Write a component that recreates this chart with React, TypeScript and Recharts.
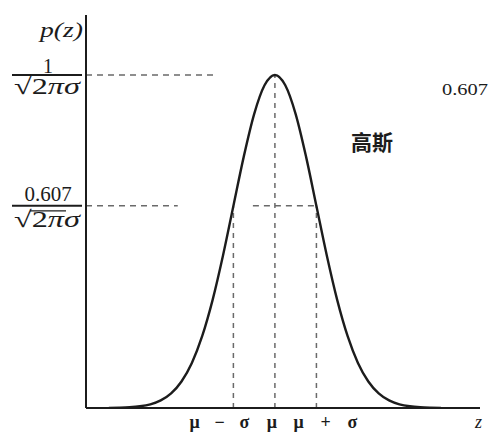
import { LineChart, Line, XAxis, YAxis, ReferenceLine } from "recharts";

// z in units of sigma, p(z) normalised so the peak is 1
const Z = [-4, -3.75, -3.5, -3.25, -3, -2.75, -2.5, -2.25, -2, -1.75, -1.5, -1.25, -1, -0.75, -0.5, -0.25, 0,
  0.25, 0.5, 0.75, 1, 1.25, 1.5, 1.75, 2, 2.25, 2.5, 2.75, 3, 3.25, 3.5, 3.75, 4];
const P = [0.0003, 0.0009, 0.0022, 0.0051, 0.0111, 0.0228, 0.0439, 0.0796, 0.1353, 0.2163, 0.3247, 0.4578,
  0.6065, 0.7548, 0.8825, 0.969, 1, 0.969, 0.8825, 0.7548, 0.6065, 0.4578, 0.3247, 0.2163, 0.1353, 0.0796,
  0.0439, 0.0228, 0.0111, 0.0051, 0.0022, 0.0009, 0.0003];

const X_TICKS = [-1, 0, 1];
const X_LABELS = ["μ − σ", "μ", "μ + σ"];
const Y_TICKS = [0.607, 1];
const Y_NUMERATORS = ["0.607", "1"];

const X_DOMAIN = [-4.55, 4.94];
const Y_DOMAIN = [0, 1.18];

const data = Z.map((z, i) => ({ z, p: P[i] }));

const SERIF = "'Liberation Serif', 'DejaVu Serif', serif";
const INK = "#1c1c1c";
const DASH = "#6a6a6a";

function FracTick({ x, y, payload }: any) {
  const i = Y_TICKS.indexOf(payload.value);
  const num = Y_NUMERATORS[i];
  const isOne = num === "1";
  return (
    <g>
      <text
        x={x - 38}
        y={y - (isOne ? 2 : 5)}
        textAnchor="middle"
        fontFamily={SERIF}
        fontSize={isOne ? 20 : 21}
        fill={INK}
      >
        {num}
      </text>
      <line x1={x - 74} x2={x - 4} y1={y} y2={y} stroke={INK} strokeWidth={2} />
      {!isOne && <line x1={x - 56} x2={x - 20} y1={y + 5} y2={y + 5} stroke={INK} strokeWidth={1.2} />}
      <text
        x={x - 72}
        y={y + (isOne ? 19 : 21)}
        fontFamily={SERIF}
        fontSize={23}
        fill={INK}
        textLength={66}
        lengthAdjust="spacingAndGlyphs"
      >
        √2<tspan fontStyle="italic">πσ</tspan>
      </text>
    </g>
  );
}

const X_DX = [-14, -3, 9];
const X_LEN = [60, 0, 64];

function MuTick({ x, y, payload }: any) {
  const i = X_TICKS.indexOf(payload.value);
  return (
    <text
      x={x + X_DX[i]}
      y={y + 20}
      textAnchor="middle"
      fontFamily={SERIF}
      fontWeight="bold"
      fontSize={18}
      fill={INK}
      {...(X_LEN[i] ? { textLength: X_LEN[i], lengthAdjust: "spacing" } : {})}
    >
      {X_LABELS[i]}
    </text>
  );
}

export default function App() {
  return (
    <div style={{ position: "absolute", left: 0, top: 0, width: 492, height: 432, background: "#fff" }}>
      <LineChart width={492} height={432} data={data} margin={{ top: 15, right: 12, left: 0, bottom: 0 }}>
        <XAxis
          dataKey="z"
          type="number"
          domain={X_DOMAIN}
          ticks={X_TICKS}
          height={24}
          tickLine={false}
          tickSize={0}
          tickMargin={0}
          tick={<MuTick />}
          axisLine={{ stroke: INK, strokeWidth: 2 }}
          allowDataOverflow
          label={{
            content: (p: any) => (
              <text
                x={p.viewBox.x + p.viewBox.width - 5}
                y={p.viewBox.y + 20}
                fontFamily={SERIF}
                fontStyle="italic"
                fontSize={18}
                fill={INK}
              >
                z
              </text>
            ),
          }}
        />
        <YAxis
          type="number"
          domain={Y_DOMAIN}
          ticks={Y_TICKS}
          width={86}
          tickLine={false}
          tickSize={0}
          tickMargin={0}
          tick={<FracTick />}
          axisLine={{ stroke: INK, strokeWidth: 2 }}
          allowDataOverflow
          label={{
            content: (p: any) => (
              <text
                x={p.viewBox.x + 40}
                y={37}
                fontFamily={SERIF}
                fontStyle="italic"
                fontSize={22}
                fill={INK}
                textLength={43}
                lengthAdjust="spacingAndGlyphs"
              >
                p(z)
              </text>
            ),
          }}
        />

        {/* guide lines */}
        <ReferenceLine segment={[{ x: -4.55, y: 1 }, { x: -1.37, y: 1 }]} stroke={DASH} strokeWidth={1.5} strokeDasharray="6 5" ifOverflow="visible" />
        <ReferenceLine segment={[{ x: -4.55, y: 0.607 }, { x: -2.34, y: 0.607 }]} stroke={DASH} strokeWidth={1.5} strokeDasharray="6 5" ifOverflow="visible" />
        <ReferenceLine segment={[{ x: -0.53, y: 0.607 }, { x: 1, y: 0.607 }]} stroke={DASH} strokeWidth={1.5} strokeDasharray="6 5" ifOverflow="visible" />
        <ReferenceLine segment={[{ x: 0, y: 0 }, { x: 0, y: 1 }]} stroke={DASH} strokeWidth={1.5} strokeDasharray="5 5" ifOverflow="visible" />
        <ReferenceLine segment={[{ x: -1, y: 0 }, { x: -1, y: 0.607 }]} stroke={DASH} strokeWidth={1.5} strokeDasharray="5 5" ifOverflow="visible" />
        <ReferenceLine segment={[{ x: 1, y: 0 }, { x: 1, y: 0.607 }]} stroke={DASH} strokeWidth={1.5} strokeDasharray="5 5" ifOverflow="visible" />

        <Line
          type="monotone"
          dataKey="p"
          stroke={INK}
          strokeWidth={2.4}
          dot={false}
          isAnimationActive={false}
        />

        <text x={442} y={95} fontFamily={SERIF} fontSize={16} fill={INK} textLength={46} lengthAdjust="spacingAndGlyphs">
          0.607
        </text>
        <text
          x={372}
          y={150}
          textAnchor="middle"
          fontFamily="'Noto Sans CJK SC', sans-serif"
          fontWeight="bold"
          fontSize={21}
          fill={INK}
        >
          高斯
        </text>
      </LineChart>
    </div>
  );
}
